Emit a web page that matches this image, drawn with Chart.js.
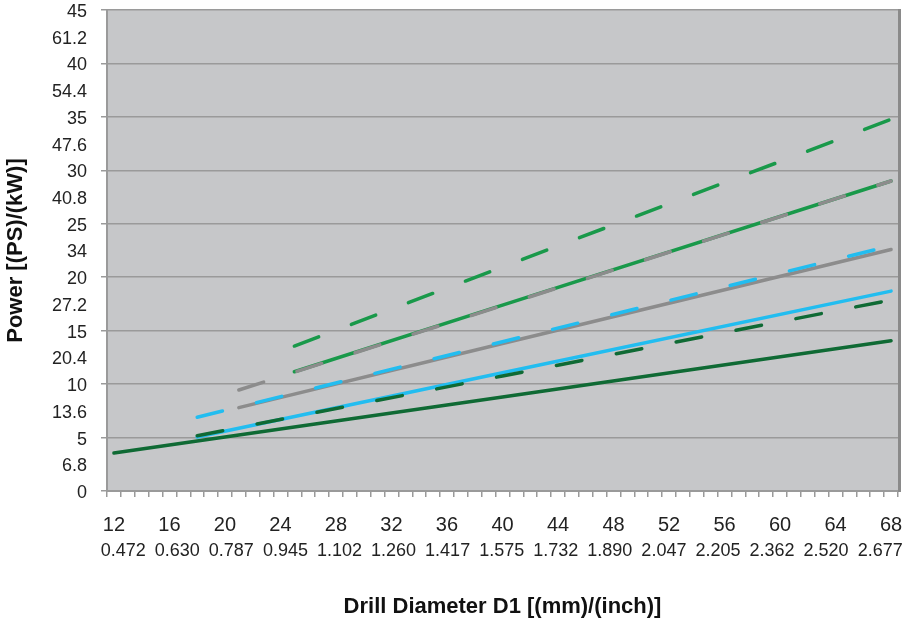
<!DOCTYPE html>
<html>
<head>
<meta charset="utf-8">
<script src="https://cdn.jsdelivr.net/npm/chart.js@4/dist/chart.umd.min.js"></script>
<style>
  body { margin: 0; background: #fff; }
  #c { display: block; }
</style>
</head>
<body>
<canvas id="c" width="904" height="626"></canvas>
<script>
// drill diameters (category axis, mm)
const mmCategories = ['12','13','14','15','16','17','18','19','20','21','22','23','24','25','26','27','28','29','30',
  '31','32','33','34','35','36','37','38','39','40','41','42','43','44','45','46','47','48','49','50',
  '51','52','53','54','55','56','57','58','59','60','61','62','63','64','65','66','67','68']
const mmTicks = ['12','16','20','24','28','32','36','40','44','48','52','56','60','64','68']
const inchTicks = ['0.472','0.630','0.787','0.945','1.102','1.260','1.417','1.575','1.732','1.890','2.047','2.205','2.362','2.520','2.677']
const kwTicks = ['0','5','10','15','20','25','30','35','40','45']
const psTicks = ['6.8','13.6','20.4','27.2','34','40.8','47.6','54.4','61.2']

// series (x = mm, y = kW)
const greenDashedX = ['25','40','68']
const greenDashedY = [13.56, 20.96, 34.77]
const grayDashedX = ['21','40','68']
const grayDashedY = [9.45, 17.35, 29.0]
const greenSolidX = ['25','40','68']
const greenSolidY = [11.16, 17.39, 29.0]
const blueDashedX = ['18','40','68']
const blueDashedY = [6.9, 13.96, 22.95]
const graySolidX = ['21','40','68']
const graySolidY = [7.8, 13.8, 22.6]
const darkDashedX = ['18','40','68']
const darkDashedY = [5.17, 10.76, 17.87]
const blueSolidX = ['18','40','68']
const blueSolidY = [5.05, 11.06, 18.7]
const darkSolidX = ['12','40','68']
const darkSolidY = [3.55, 8.8, 14.06]

const darkGreen = '#0f6a34',
  green = '#19994a',
  blue = '#22bdf0',
  gray = '#8c8c8c',
  gridGray = '#9a9a9a'
const fontFamily = "'Liberation Sans', Arial, sans-serif"

function pts(xs, ys) {
  return xs.map((x, i) => ({ x: x, y: ys[i] }))
}

function line(xs, ys, color, dashed) {
  return {
    data: pts(xs, ys),
    borderColor: color,
    borderWidth: 3.5,
    borderCapStyle: 'round',
    borderJoinStyle: 'round',
    borderDash: dashed ? [26, 35] : [],
    pointRadius: 0,
    tension: 0,
    fill: false,
  }
}

// first dataset is drawn on top
const datasets = [
  line(greenDashedX, greenDashedY, green, true),
  line(grayDashedX, grayDashedY, gray, true),
  line(blueDashedX, blueDashedY, blue, true),
  line(darkDashedX, darkDashedY, darkGreen, true),
  line(greenSolidX, greenSolidY, green, false),
  line(graySolidX, graySolidY, gray, false),
  line(blueSolidX, blueSolidY, blue, false),
  line(darkSolidX, darkSolidY, darkGreen, false),
]

const plotBg = {
  id: 'plotBg',
  beforeDraw(chart) {
    const { ctx, chartArea: a } = chart
    ctx.save()
    ctx.fillStyle = '#c6c7c9'
    ctx.fillRect(a.left, a.top, a.right - a.left, a.bottom - a.top)
    ctx.restore()
  },
  afterDraw(chart) {
    const { ctx, chartArea: a } = chart
    ctx.save()
    ctx.strokeStyle = '#8a8a8a'
    ctx.lineWidth = 3
    ctx.beginPath()
    ctx.moveTo(a.right + 1.5, a.top - 1)
    ctx.lineTo(a.right + 1.5, a.bottom + 1)
    ctx.stroke()
    ctx.restore()
  },
}

new Chart(document.getElementById('c'), {
  type: 'line',
  data: { labels: mmCategories, datasets: datasets },
  plugins: [plotBg],
  options: {
    responsive: false,
    animation: false,
    layout: { padding: { left: 0, top: 10, right: 6, bottom: 0 } },
    plugins: { legend: { display: false }, tooltip: { enabled: false } },
    scales: {
      x: {
        type: 'category',
        offset: true,
        weight: 0,
        afterFit(scale) {
          scale.height = 46
          scale.paddingLeft = 0
          scale.paddingRight = 0
        },
        grid: {
          offset: true,
          drawOnChartArea: false,
          color: gridGray,
          tickLength: 6,
          lineWidth: 1.5,
        },
        border: { color: gridGray, width: 2 },
        ticks: {
          autoSkip: false,
          maxRotation: 0,
          minRotation: 0,
          padding: 16,
          color: '#222',
          font: { family: fontFamily, size: 20 },
          callback(val) {
            const lab = this.getLabelForValue(val)
            return mmTicks.includes(lab) ? lab : ''
          },
        },
      },
      // inch labels: spread a little tighter than the mm row, as in the original
      xInch: {
        type: 'linear',
        position: 'bottom',
        weight: 1,
        min: -0.3,
        max: 14.33,
        afterBuildTicks(scale) {
          scale.ticks = inchTicks.map((t, i) => ({ value: i }))
        },
        afterFit(scale) {
          scale.height = 89
          scale.paddingLeft = 0
          scale.paddingRight = 0
        },
        grid: { display: false, drawTicks: false },
        border: { display: false },
        ticks: {
          autoSkip: false,
          maxRotation: 0,
          minRotation: 0,
          padding: 3,
          color: '#222',
          font: { family: fontFamily, size: 18 },
          callback(v) {
            return inchTicks[v]
          },
        },
        title: {
          display: true,
          text: 'Drill Diameter D1 [(mm)/(inch)]',
          color: '#111',
          font: { family: fontFamily, size: 22, weight: 'bold' },
          padding: { top: 0, bottom: 6 },
        },
      },
      y: {
        min: 0,
        max: 45,
        afterFit(scale) {
          scale.width = 107
          scale.paddingTop = 0
          scale.paddingBottom = 0
        },
        afterBuildTicks(scale) {
          let t = []
          for (let v = 0; v <= 45; v += 2.5) t.push({ value: v })
          scale.ticks = t
        },
        grid: {
          color: (c) => (c.tick && c.tick.value % 5 === 0 ? gridGray : 'rgba(0,0,0,0)'),
          lineWidth: 1.5,
          tickLength: 6,
        },
        border: { color: gridGray, width: 2 },
        ticks: {
          autoSkip: false,
          padding: 14,
          labelOffset: 2,
          color: '#222',
          font: { family: fontFamily, size: 18 },
          callback(v) {
            if (v % 5 === 0) return kwTicks[v / 5]
            return psTicks[Math.floor(v / 5)]
          },
        },
        title: {
          display: true,
          text: 'Power [(PS)/(kW)]',
          color: '#111',
          font: { family: fontFamily, size: 22, weight: 'bold' },
          padding: { top: 3, bottom: 0 },
        },
      },
    },
  },
})
</script>
</body>
</html>
